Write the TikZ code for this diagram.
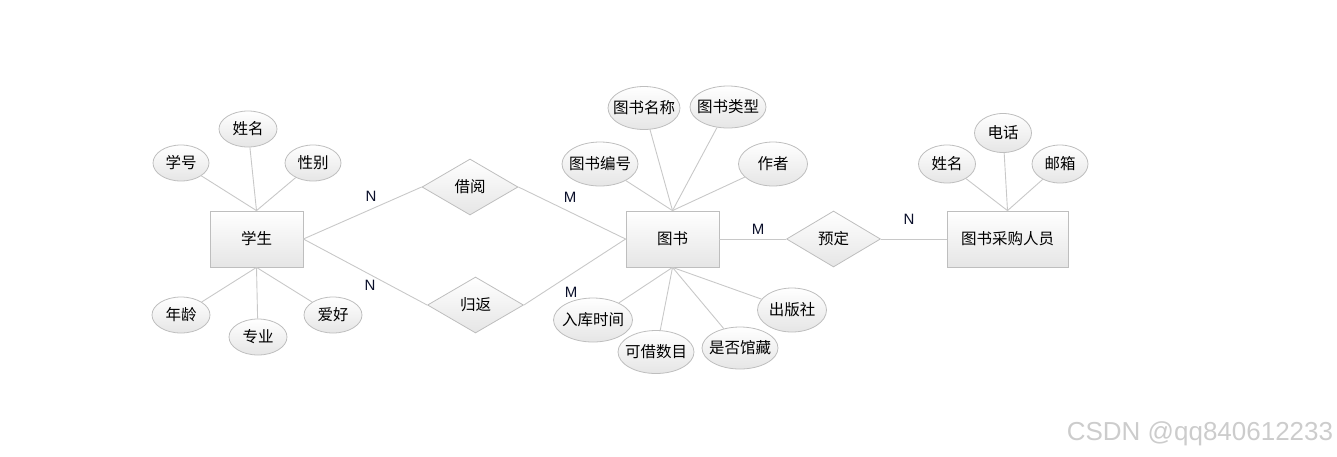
\documentclass[tikz,border=0pt]{standalone}
\usepackage{fontspec}
\newfontfamily\cjk{Noto Sans CJK SC}
\newfontfamily\lat{Liberation Sans}
\usetikzlibrary{shapes.geometric,shadows}
\definecolor{edgegray}{HTML}{C8C8C8}
\definecolor{bordgray}{HTML}{BEBEBE}
\definecolor{labblue}{HTML}{0A0F2A}
\tikzset{
  ent/.style={draw=bordgray, line width=0.8pt, top color=white, bottom color=black!10, minimum height=56pt, inner sep=0pt, font=\cjk\fontsize{15.5}{17}\selectfont,
    drop shadow={opacity=0.18, shadow xshift=1.2pt, shadow yshift=-1.2pt}},
  attr/.style={ellipse, draw=bordgray, line width=0.8pt, top color=white, bottom color=black!10, inner xsep=-20pt, inner ysep=0pt, font=\cjk\fontsize{15.5}{17}\selectfont},
  rel/.style={diamond, draw=bordgray, line width=0.8pt, top color=white, bottom color=black!10, inner sep=0pt, font=\cjk\fontsize{15.5}{17}\selectfont},
  conn/.style={draw=edgegray, line width=0.9pt},
  card/.style={font=\lat\fontsize{15}{17}\selectfont, text=labblue, inner sep=0pt},
}
\begin{document}
\begin{tikzpicture}[x=1pt,y=-1pt]
\useasboundingbox (0,0) rectangle (1337,456);
% entities
\node[ent, minimum width=93pt] (stu) at (256.5,239) {学生};
\node[ent, minimum width=93pt] (book) at (672.5,239) {图书};
\node[ent, minimum width=121pt] (buyer) at (1007.5,239) {图书采购人员};
% relations
\node[rel, minimum width=96pt, minimum height=56pt] (jy) at (470,187) {借阅};
\node[rel, minimum width=96pt, minimum height=56pt] (gf) at (475.5,305) {归返};
\node[rel, minimum width=94pt, minimum height=56pt] (yd) at (833.5,239) {预定};
% student attributes
\node[attr, minimum width=56pt, minimum height=36pt] (xh) at (181,163) {学号};
\node[attr, minimum width=58pt, minimum height=36pt] (xm) at (248,129) {姓名};
\node[attr, minimum width=56pt, minimum height=36pt] (xb) at (313,163) {性别};
\node[attr, minimum width=58pt, minimum height=36pt] (nl) at (181,315) {年龄};
\node[attr, minimum width=58pt, minimum height=36pt] (zy) at (258,337) {专业};
\node[attr, minimum width=58pt, minimum height=36pt] (ah) at (333,315) {爱好};
% book attributes
\node[attr, minimum width=72pt, minimum height=43pt] (mc) at (644,108) {图书名称};
\node[attr, minimum width=76pt, minimum height=42pt] (lx) at (728,107) {图书类型};
\node[attr, minimum width=76pt, minimum height=44pt] (bh) at (600,164) {图书编号};
\node[attr, minimum width=69pt, minimum height=44pt] (zz) at (773,164) {作者};
\node[attr, minimum width=79pt, minimum height=44pt] (rk) at (593,320) {入库时间};
\node[attr, minimum width=76pt, minimum height=43pt] (kj) at (656,352) {可借数目};
\node[attr, minimum width=76pt, minimum height=42pt] (gc) at (740,348) {是否馆藏};
\node[attr, minimum width=69pt, minimum height=44pt] (cb) at (792,310) {出版社};
% buyer attributes
\node[attr, minimum width=57pt, minimum height=38pt] (bxm) at (947,164) {姓名};
\node[attr, minimum width=57pt, minimum height=39pt] (dh) at (1003,133) {电话};
\node[attr, minimum width=56pt, minimum height=38pt] (yx) at (1060,164) {邮箱};
% connectors
\foreach \a in {xh,xm,xb} \draw[conn] (\a) -- (stu.north);
\foreach \a in {nl,zy,ah} \draw[conn] (\a) -- (stu.south);
\foreach \a in {mc,lx,bh,zz} \draw[conn] (\a) -- (book.north);
\foreach \a in {rk,kj,gc,cb} \draw[conn] (\a) -- (book.south);
\foreach \a in {bxm,dh,yx} \draw[conn] (\a) -- (buyer.north);
\draw[conn] (stu.east) -- (jy.west);
\draw[conn] (jy.east) -- (book.west);
\draw[conn] (stu.east) -- (gf.west);
\draw[conn] (gf.east) -- (book.west);
\draw[conn] (book.east) -- (yd.west);
\draw[conn] (yd.east) -- (buyer.west);
% cardinalities
\node[card] (n1) at (371,196) {N};
\node[card] (n2) at (370,285) {N};
\node[card] (m1) at (570,197) {M};
\node[card] (m2) at (571,292) {M};
\node[card] (m3) at (758,229) {M};
\node[card] (n3) at (909,219) {N};
% watermark
\node[font=\lat\fontsize{26}{29}\selectfont, text=black!20, inner sep=0pt] (wm) at (1200,434) {CSDN @qq840612233};
\end{tikzpicture}
\end{document}
